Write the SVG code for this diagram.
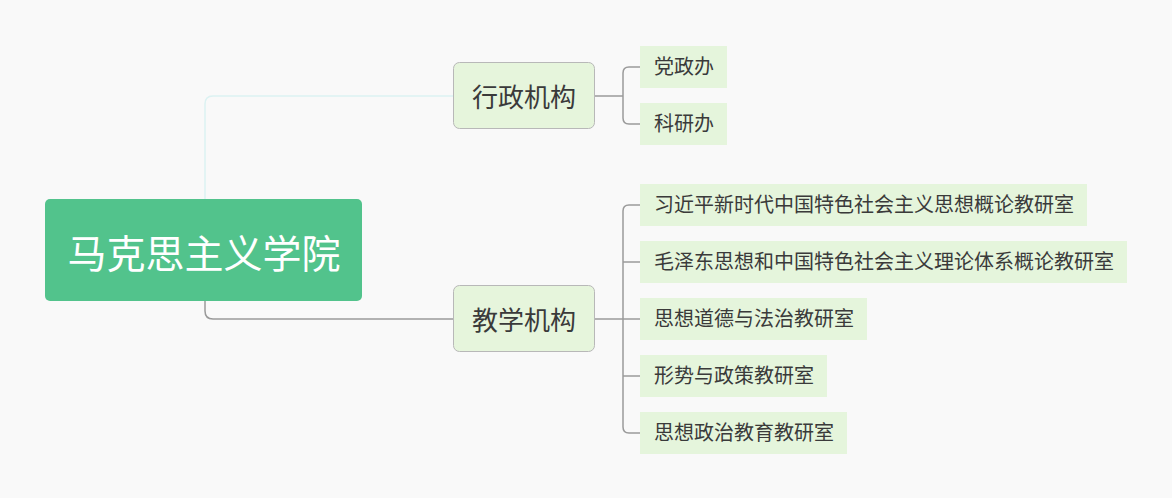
<svg xmlns="http://www.w3.org/2000/svg" width="1172" height="498" viewBox="0 0 1172 498">
<style>
text{font-family:"Noto Sans CJK SC","Noto Sans",sans-serif;dominant-baseline:central}
.root rect{fill:#52c38c}
.root text{fill:#ffffff;font-size:39px;text-anchor:middle}
.main rect{fill:#e6f5dc;stroke:#b8b8b8;stroke-width:1}
.main text{fill:#3a3a3a;font-size:26px;text-anchor:middle}
.leaf rect{fill:#e5f5dc}
.leaf text{fill:#3a3a3a;font-size:20px}
.ln{fill:none;stroke:#9a9a9a;stroke-width:1.5}
.lt{fill:none;stroke:#dcf2f2;stroke-width:1.5}
</style>
<rect width="1172" height="498" fill="#f9f9f9"/>
<g id="connectors">
<path class="lt" d="M205 199 V104 Q205 96 213 96 H453"/>
<path class="ln" d="M205 301 V311 Q205 319 213 319 H453"/>
<path class="ln" d="M595 96 H623"/>
<path class="ln" d="M640 67 H629 Q623 67 623 73 V118 Q623 124 629 124 H640"/>
<path class="ln" d="M595 319 H640"/>
<path class="ln" d="M640 205 H629 Q623 205 623 211 V427 Q623 433 629 433 H640"/>
<path class="ln" d="M623 262 H640"/>
<path class="ln" d="M623 376 H640"/>
</g>
<g id="root" class="root"><rect x="45" y="199" width="317" height="102" rx="5"/><text x="204" y="251">马克思主义学院</text></g>
<g id="n-admin" class="main"><rect x="453.5" y="62.5" width="141" height="66" rx="6"/><text x="524" y="95">行政机构</text></g>
<g id="n-teach" class="main"><rect x="453.5" y="285.5" width="141" height="66" rx="6"/><text x="524" y="318">教学机构</text></g>
<g id="l1" class="leaf"><rect x="640" y="46" width="87" height="42"/><text x="654" y="65.5">党政办</text></g>
<g id="l2" class="leaf"><rect x="640" y="103" width="87" height="42"/><text x="654" y="122.5">科研办</text></g>
<g id="l3" class="leaf"><rect x="640" y="184" width="447" height="42"/><text x="654" y="203.5">习近平新时代中国特色社会主义思想概论教研室</text></g>
<g id="l4" class="leaf"><rect x="640" y="241" width="487" height="42"/><text x="654" y="260.5">毛泽东思想和中国特色社会主义理论体系概论教研室</text></g>
<g id="l5" class="leaf"><rect x="640" y="298" width="227" height="42"/><text x="654" y="317.5">思想道德与法治教研室</text></g>
<g id="l6" class="leaf"><rect x="640" y="355" width="187" height="42"/><text x="654" y="374.5">形势与政策教研室</text></g>
<g id="l7" class="leaf"><rect x="640" y="412" width="207" height="42"/><text x="654" y="431.5">思想政治教育教研室</text></g>
</svg>
